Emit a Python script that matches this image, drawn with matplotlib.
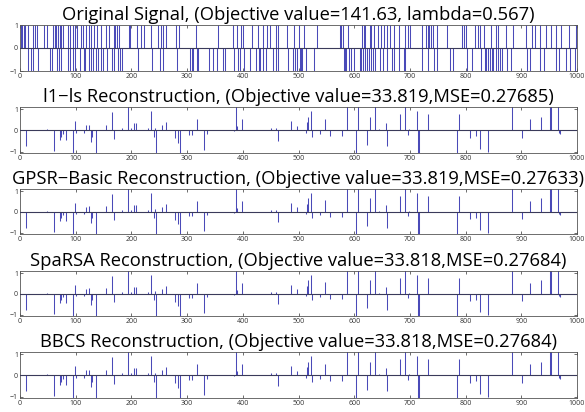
import numpy as np
import matplotlib
matplotlib.use("Agg")
import matplotlib.pyplot as plt

N = 1000

# Original signal: indices of +1 and -1 spikes
orig_pos = [1, 3, 6, 8, 13, 22, 26, 30, 42, 48, 58, 61, 62, 64, 67, 68, 70, 73, 76, 85, 89, 94, 98, 101,
            108, 112, 118, 122, 127, 132, 138, 144, 153, 158, 167, 170, 173, 177, 194, 197, 209, 217, 221,
            235, 247, 252, 255, 262, 279, 284, 315, 355, 382, 388, 395, 400, 415, 427, 436, 442, 448, 458,
            462, 479, 491,
            500, 508, 533, 574, 576, 579, 588, 613, 616, 619, 627, 629, 634, 641, 647, 652, 657, 664, 670,
            679, 690, 695, 699, 720, 728, 731, 734, 736, 741, 748, 765, 792, 796, 799, 815, 821, 824, 832,
            845, 853, 857, 872, 884, 908, 918, 924, 933, 943, 952, 961, 970, 985, 997]
orig_neg = [14, 18, 23, 32, 53, 56, 65, 69, 72, 86, 88, 95, 97, 106, 114, 116, 123, 126, 130, 135, 139,
            145, 148, 156, 164, 168, 175, 179, 183, 210, 236, 251, 256, 280, 304, 308, 310, 316, 318, 339,
            345, 352, 364, 367, 383, 391, 394, 401, 412, 423, 428, 430, 435, 441, 453, 459, 463, 480, 490,
            493, 497,
            501, 503, 506, 512, 527, 580, 582, 585, 589, 593, 598, 610, 612, 615, 618, 622, 625, 630, 633,
            637, 645, 651, 658, 667, 671, 680, 688, 691, 721, 732, 742, 747, 771, 777, 801, 810, 827, 833,
            836, 839, 842, 846, 848, 854, 858, 861, 865, 873, 881, 909, 915, 932, 940, 962, 967, 979, 986, 996]

# Reconstruction (nearly identical for all four solvers)
rec_idx = [9, 47, 60, 70, 72, 76, 82, 94, 98, 100, 114, 118, 122, 126, 128, 136, 154, 164, 167, 183,
           193, 198, 204, 208, 229, 234, 239, 242, 243, 254, 261, 278, 282, 287, 303, 308, 317, 329, 334,
           383, 387, 389, 397, 450, 458, 462, 485, 497, 512, 514, 516, 521, 524, 537, 546, 555, 577, 586,
           602, 606, 622, 627, 637, 643, 656, 658, 682, 690, 695, 698, 711, 714, 715, 731, 783, 787, 807,
           817, 824, 839, 882, 900, 915, 935, 951, 953, 965, 966, 968]
rec_val = [-0.75, 0.05, -0.95, -0.45, -0.3, -0.15, -0.45, -1.2, 0.45, -0.12, -0.12, 0.25, 0.27, -0.55,
           -0.3, -1.2, 0.27, 0.88, -0.4, 0.1, 1.2, 0.1, 0.35, 0.35, 0.1, 0.93, -0.3, 0.12, -1.2, 0.25,
           0.4, -0.37, -0.6, -1.2, -0.2, -0.2, 0.53, -0.9, -0.17, -0.05, 1.2, 0.2, 0.53, 0.1, 0.1, -0.5,
           0.45, 0.22, -0.12, 0.4, 0.65, 0.9, -0.3, -0.15, 0.55, -0.25, -0.25, 1.2, -1.2, 1.2, -0.68, 0.65,
           1.2, 0.06, 0.35, -0.75, 0.78, 1.2, -0.2, 0.05, 0.9, -1.2, -1.2, 0.78, -1.2, 0.78, -0.35, -0.28,
           -0.88, -1.0, 1.2, -0.35, 0.53, 0.65, 1.2, 1.2, 1.2, -0.1, -0.15]

titles = ["Original Signal, (Objective value=141.63, lambda=0.567)",
          "l1\u2212ls Reconstruction, (Objective value=33.819,MSE=0.27685)",
          "GPSR\u2212Basic Reconstruction, (Objective value=33.819,MSE=0.27633)",
          "SpaRSA Reconstruction, (Objective value=33.818,MSE=0.27684)",
          "BBCS Reconstruction, (Objective value=33.818,MSE=0.27684)"]
xticks = [0, 100, 200, 300, 400, 500, 600, 700, 800, 900, 1000]
yticks = [-1, 0, 1]

orig = np.zeros(N)
orig[orig_pos] = 1.0
orig[orig_neg] = -1.0
rec = np.zeros(N)
rec[rec_idx] = rec_val
signals = [orig, rec, rec, rec, rec]

plt.rcParams['font.family'] = ['Open Sans', 'DejaVu Sans']

W, H = 585, 412
fig = plt.figure(figsize=(W / 100, H / 100), dpi=100)
panels = [(25, 71), (107, 153), (189, 234), (271, 316), (352, 398)]
x0, x1 = 20, 577
xs = np.arange(1, N + 1)
for k, (top, bot) in enumerate(panels):
    ax = fig.add_axes([x0 / W, 1 - bot / H, (x1 - x0) / W, (bot - top) / H])
    s = signals[k]
    nz = s != 0
    ax.vlines(xs[nz], 0, s[nz], color='#4a4ab8', lw=0.75)
    ax.axhline(0, color='#3a3a5a', lw=0.8, zorder=3)
    ax.set_xlim(0, 1000)
    if k == 0:
        ax.set_ylim(-1, 1)
    else:
        ax.set_ylim(-1.06, 1.1)
    ax.set_xticks(xticks)
    ax.set_yticks(yticks)
    ax.tick_params(direction='in', top=True, right=True, labelsize=5, length=2, width=0.5, pad=1.5,
                   colors='#333333')
    for sp in ax.spines.values():
        sp.set_linewidth(0.6)
        sp.set_color('#555555')
    ax.set_title(titles[k], fontsize=13.2, pad=3.5)

fig.savefig("out.png", dpi=100)
